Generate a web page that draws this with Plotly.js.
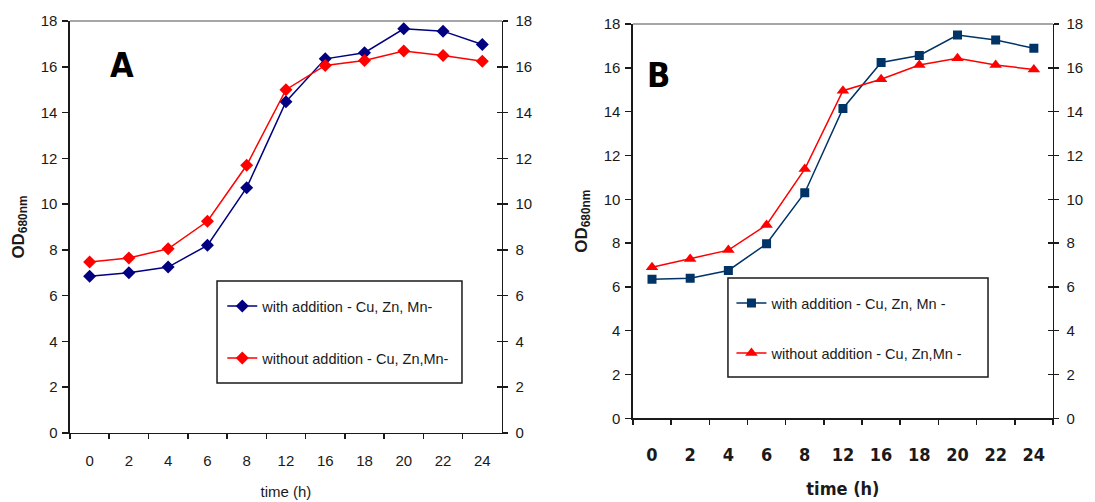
<!DOCTYPE html>
<html><head><meta charset="utf-8">
<script src="https://cdn.plot.ly/plotly-3.0.1.min.js"></script>
<style>html,body{margin:0;padding:0;background:#fff}#chart{width:1095px;height:502px}</style>
</head><body><div id="chart"></div>
<script>
const timeLabels = ['0','2','4','6','8','12','16','18','20','22','24'];
const withAdditionA = [6.85, 7.0, 7.25, 8.2, 10.72, 14.48, 16.35, 16.62, 17.66, 17.56, 16.98];
const withoutAdditionA = [7.47, 7.65, 8.05, 9.25, 11.7, 15.0, 16.06, 16.28, 16.69, 16.5, 16.24];
const withAdditionB = [6.35, 6.4, 6.75, 7.97, 10.3, 14.15, 16.25, 16.57, 17.5, 17.27, 16.9];
const withoutAdditionB = [6.9, 7.28, 7.68, 8.83, 11.38, 14.96, 15.48, 16.13, 16.44, 16.13, 15.93];
const yTicks = [0,2,4,6,8,10,12,14,16,18];
const namesA = ['with addition - Cu, Zn, Mn-', 'without addition - Cu, Zn,Mn-'];
const namesB = ['with addition - Cu, Zn, Mn -', 'without addition - Cu, Zn,Mn -'];

const FONT = 'Liberation Sans, Arial, sans-serif';
const NARROW = 'DejaVu Sans Condensed, Liberation Sans Narrow, Arial Narrow, sans-serif';
const INK = '#1a1a1a';

const traces = [
  {x: timeLabels, y: withAdditionA, xaxis: 'x', yaxis: 'y', mode: 'lines+markers', name: namesA[0],
   legend: 'legend', legendgroup: 'a1',
   line: {color: '#000080', width: 1.5}, marker: {symbol: 'diamond', size: 10, color: '#000080'}},
  {x: timeLabels, y: withoutAdditionA, xaxis: 'x', yaxis: 'y', mode: 'lines+markers', name: namesA[1],
   legend: 'legend', legendgroup: 'a2',
   line: {color: '#ff0000', width: 1.5}, marker: {symbol: 'diamond', size: 10, color: '#ff0000'}},
  {x: timeLabels, y: withAdditionB, xaxis: 'x2', yaxis: 'y3', mode: 'lines+markers', name: namesB[0],
   legend: 'legend2', legendgroup: 'b1',
   line: {color: '#003366', width: 1.5}, marker: {symbol: 'square', size: 9, color: '#003366'}},
  {x: timeLabels, y: withoutAdditionB, xaxis: 'x2', yaxis: 'y3', mode: 'lines+markers', name: namesB[1],
   legend: 'legend2', legendgroup: 'b2',
   line: {color: '#ff0000', width: 1.5}, marker: {symbol: 'triangle-up', size: 11, color: '#ff0000'}}
];
// empty helper traces so that the secondary (right-hand) axes are drawn
[['x','y2'],['x','y5'],['x2','y4'],['x2','y6']].forEach(function(p){
  traces.push({x: [], y: [], xaxis: p[0], yaxis: p[1], type: 'scatter', mode: 'lines', showlegend: false, hoverinfo: 'skip'});
});

function xAxis(domain, anchor, bold) {
  return {
    domain: domain, anchor: anchor, type: 'category', range: [-0.5, 10.5],
    tickson: 'boundaries', ticks: 'outside', ticklen: 5, tickwidth: 1.5, tickcolor: INK,
    showline: true, linecolor: INK, linewidth: 1.5, showgrid: false, zeroline: false,
    tickfont: bold ? {family: NARROW, size: 18, color: INK, weight: 'bold'} : {family: FONT, size: 15, color: INK},
    ticklabelstandoff: bold ? 20 : 14,
    title: {text: 'time (h)', standoff: 18,
            font: bold ? {family: NARROW, size: 18, color: INK, weight: 'bold'} : {family: FONT, size: 15, color: INK}}
  };
}
function yLeft(domain, anchor) {
  return {
    domain: domain, anchor: anchor, range: [0, 18], tickvals: yTicks,
    ticks: 'outside', ticklen: 6, tickwidth: 1.5, tickcolor: INK,
    showline: true, linecolor: INK, linewidth: 1.5, showgrid: false, zeroline: false,
    tickfont: {family: FONT, size: 15, color: INK}, ticklabelstandoff: 2,
    title: {text: '<b>OD<sub>680nm</sub></b>', standoff: 12, font: {family: FONT, size: 17, color: INK}}
  };
}
function yRight(over, anchor, inside) {
  return {
    overlaying: over, side: 'right', anchor: anchor, range: [0, 18], tickvals: yTicks,
    ticks: inside ? 'inside' : 'outside', ticklen: 5, tickwidth: 1.5, tickcolor: INK,
    showline: !inside, linecolor: INK, linewidth: 1.5, showgrid: false, zeroline: false,
    showticklabels: !inside,
    tickfont: {family: FONT, size: 15, color: INK}, ticklabelstandoff: 4
  };
}

const layout = {
  width: 1095, height: 502,
  margin: {l: 0, r: 0, t: 0, b: 0},
  paper_bgcolor: '#fff', plot_bgcolor: 'rgba(0,0,0,0)',
  font: {family: FONT, color: INK},
  xaxis: xAxis([0.0639, 0.4584], 'y', false),
  yaxis: yLeft([0.1375, 0.958], 'x'),
  yaxis2: yRight('y', 'x', false),
  yaxis5: yRight('y', 'x', true),
  xaxis2: xAxis([0.578, 0.9616], 'y3', true),
  yaxis3: yLeft([0.1667, 0.952], 'x2'),
  yaxis4: yRight('y3', 'x2', false),
  yaxis6: yRight('y3', 'x2', true),
  showlegend: true,
  legend: {x: 0.203, y: 0.422, xanchor: 'left', yanchor: 'top', bgcolor: 'rgba(0,0,0,0)', borderwidth: 0,
           traceorder: 'grouped', tracegroupgap: 30, font: {family: FONT, size: 14.5, color: INK}},
  legend2: {x: 0.668, y: 0.428, xanchor: 'left', yanchor: 'top', bgcolor: 'rgba(0,0,0,0)', borderwidth: 0,
           traceorder: 'grouped', tracegroupgap: 28, font: {family: FONT, size: 14.5, color: INK}},
  shapes: [
    {type: 'line', xref: 'x domain', yref: 'y domain', x0: 0, x1: 1, y0: 1, y1: 1, line: {color: '#a6a6a6', width: 2}},
    {type: 'line', xref: 'x2 domain', yref: 'y3 domain', x0: 0, x1: 1, y0: 1, y1: 1, line: {color: '#a6a6a6', width: 2}},
    {type: 'rect', xref: 'paper', yref: 'paper', x0: 0.1982, x1: 0.4219, y0: 0.2371, y1: 0.4402, line: {color: INK, width: 1.5}},
    {type: 'rect', xref: 'paper', yref: 'paper', x0: 0.6648, x1: 0.9023, y0: 0.249, y1: 0.4462, line: {color: INK, width: 1.5}}
  ],
  annotations: [
    {text: '<b>A</b>', xref: 'paper', yref: 'paper', x: 0.1114, y: 0.8705, xanchor: 'center', yanchor: 'middle', showarrow: false,
     font: {family: NARROW, size: 34, color: '#000'}},
    {text: '<b>B</b>', xref: 'paper', yref: 'paper', x: 0.601, y: 0.8506, xanchor: 'center', yanchor: 'middle', showarrow: false,
     font: {family: NARROW, size: 34, color: '#000'}}
  ]
};

Plotly.newPlot('chart', traces, layout, {displayModeBar: false, staticPlot: true});
</script>
</body></html>
